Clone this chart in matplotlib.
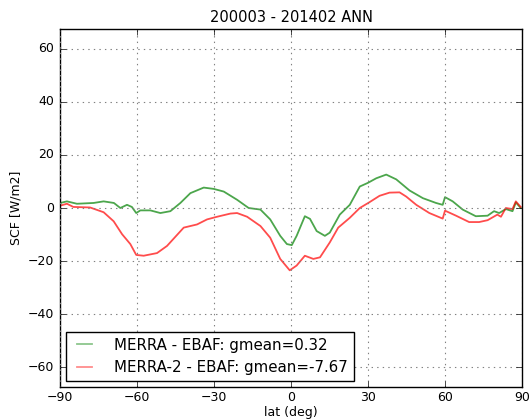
import matplotlib
matplotlib.use('Agg')
import matplotlib.pyplot as plt

# zonal mean SCF differences
lat_merra = [-89.9, -87.3, -83.4, -76.9, -73.0, -69.0, -66.5, -63.9, -62.0, -60.3,
             -58.7, -54.8, -50.9, -47.0, -43.1, -39.2, -34.0, -30.1, -26.2, -21.0,
             -16.5, -11.9, -8.1, -4.2, -1.6, 0.3, 2.2, 5.4, 7.4, 10.0,
             13.2, 15.1, 19.0, 22.9, 26.8, 30.0, 33.2, 37.1, 41.0, 46.2,
             51.4, 56.5, 59.1, 60.0, 63.0, 66.9, 72.0, 76.6, 79.1, 81.1,
             83.7, 86.3, 87.6, 89.5]
scf_merra = [1.9, 2.5, 1.6, 1.9, 2.5, 1.9, 0.0, 1.2, 0.4, -1.9,
             -0.9, -0.9, -1.9, -1.2, 1.9, 5.6, 7.7, 7.2, 6.2, 3.1,
             0.0, -0.6, -4.3, -10.5, -13.6, -14.0, -10.5, -3.1, -4.1, -8.7,
             -10.5, -9.3, -2.5, 1.2, 8.1, 9.5, 11.2, 12.6, 10.8, 6.6,
             3.7, 1.9, 1.2, 4.1, 2.5, -0.6, -3.1, -2.9, -1.2, -1.9,
             -0.4, -1.2, 2.1, 0.0]

lat_merra2 = [-89.9, -87.3, -84.8, -78.3, -73.0, -69.1, -65.8, -62.6, -60.3, -57.4,
              -52.2, -48.3, -41.8, -36.6, -32.7, -28.8, -23.6, -21.0, -17.1, -11.9,
              -8.1, -4.2, -0.5, 2.2, 5.4, 8.7, 11.3, 15.1, 18.4, 22.9,
              26.8, 30.6, 34.5, 38.4, 42.3, 44.9, 48.8, 53.9, 59.1, 60.0,
              64.3, 69.4, 73.3, 76.6, 80.4, 81.8, 83.7, 86.3, 87.6, 89.5]
scf_merra2 = [0.9, 1.6, 0.4, 0.2, -1.6, -5.0, -9.9, -13.6, -17.7, -18.0,
              -17.0, -14.3, -7.4, -6.2, -4.3, -3.3, -2.1, -1.9, -3.3, -6.8,
              -11.2, -19.2, -23.5, -21.7, -18.0, -19.2, -18.6, -13.0, -7.4, -3.7,
              0.0, 2.2, 4.6, 5.8, 5.9, 4.3, 1.2, -1.9, -4.0, -1.0,
              -2.9, -5.3, -5.3, -4.6, -2.5, -3.3, 0.0, -0.4, 2.5, 0.4]

labels = ['MERRA - EBAF: gmean=0.32', 'MERRA-2 - EBAF: gmean=-7.67']
title = '200003 - 201402 ANN'

plt.style.use('classic')
fig = plt.figure(figsize=(5.31, 4.19), dpi=100, facecolor='white')
ax = fig.add_axes([60 / 531, 1 - 387 / 419, 462 / 531, 358 / 419])

ax.plot(lat_merra, scf_merra, color='g', alpha=0.7, lw=1.3, label=labels[0])
ax.plot(lat_merra2, scf_merra2, color='r', alpha=0.7, lw=1.3, label=labels[1])

ax.set_xlim(-90, 90)
ax.set_ylim(-67.5, 67.5)
ax.set_xticks(range(-90, 91, 30))
ax.set_yticks(range(-60, 61, 20))
ax.tick_params(labelsize=9)
ax.tick_params(axis='x', pad=3)
ax.tick_params(axis='y', pad=4)
ax.grid(True, color='0.5', linestyle=':', linewidth=0.8)
ax.set_xlabel('lat (deg)', fontsize=9, labelpad=1)
ax.set_ylabel('SCF [W/m2]', fontsize=9, labelpad=4)
ax.set_title(title, fontsize=10.5)

leg = ax.legend(loc='lower left', fontsize=10.8, frameon=True, fancybox=False,
                handlelength=1.6, handletextpad=1.2, borderaxespad=0.4)
for h in leg.get_lines():
    h.set_alpha(0.45)

fig.savefig('out.png', dpi=100, facecolor='white')
plt.close(fig)
